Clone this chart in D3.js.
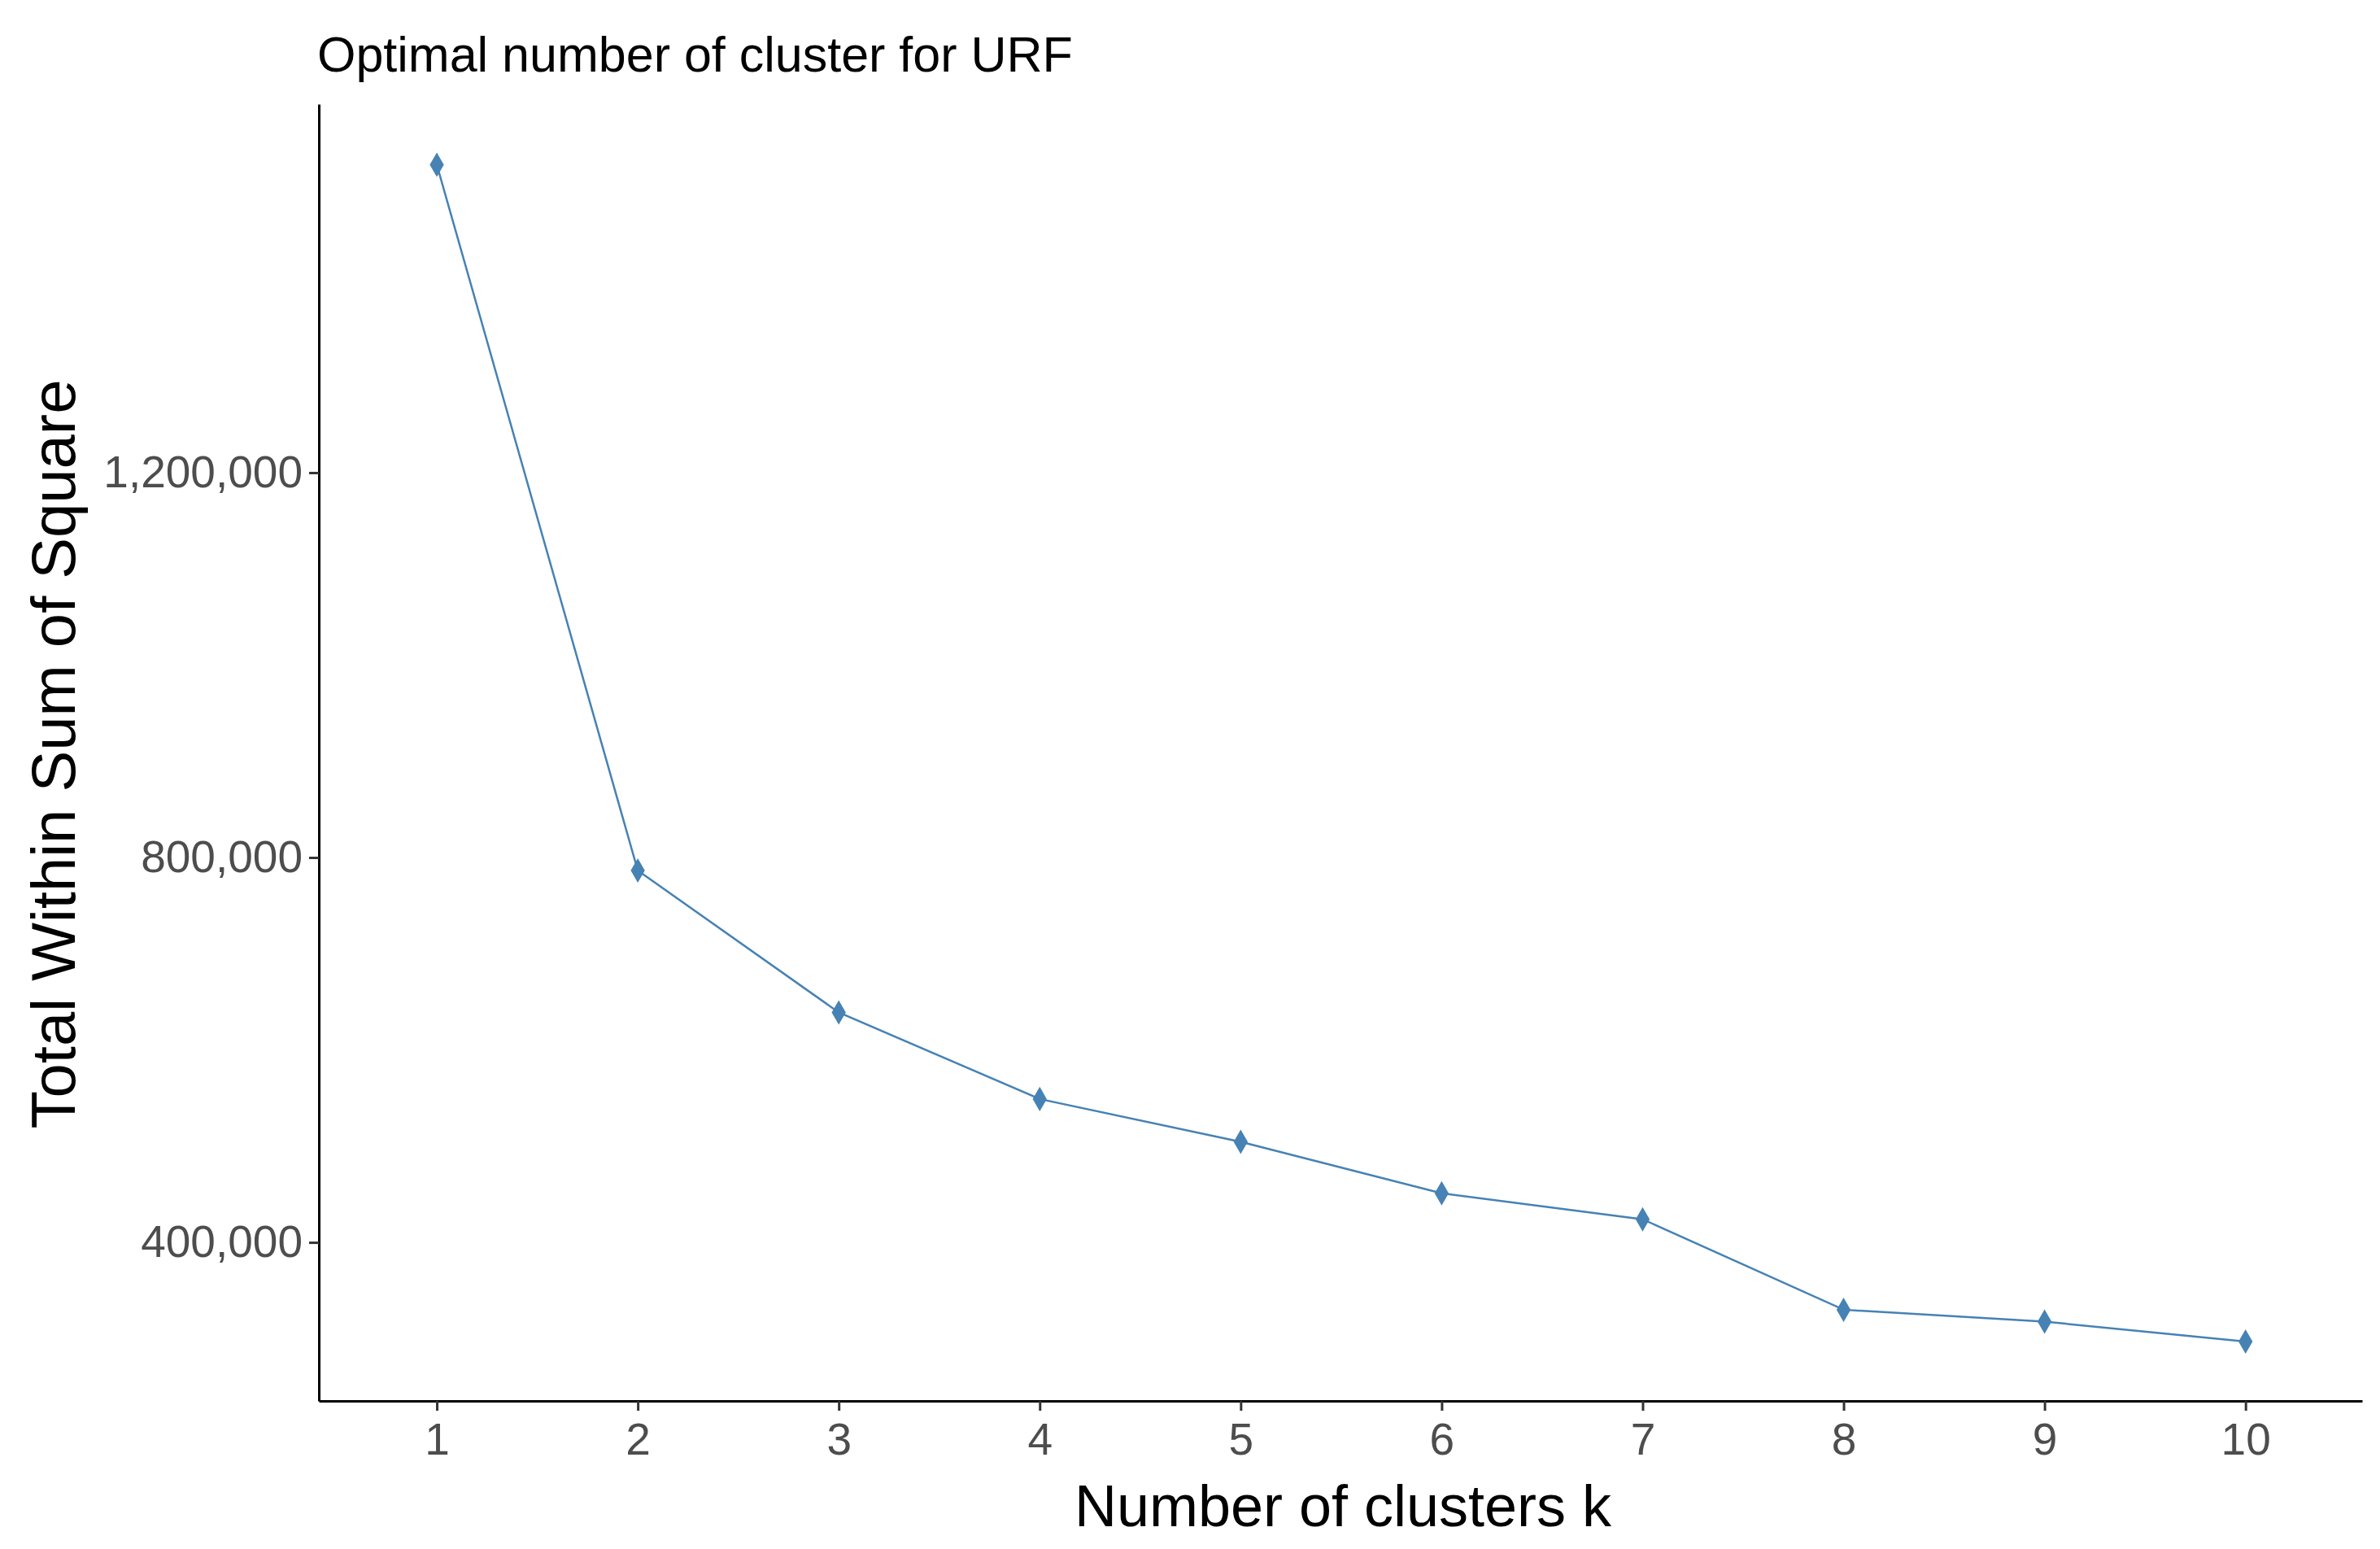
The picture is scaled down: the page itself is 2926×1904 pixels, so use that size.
<!DOCTYPE html>
<html><head><meta charset="utf-8">
<script src="https://cdn.jsdelivr.net/npm/d3@7"></script>
<style>body{margin:0;background:#fff}svg{display:block}</style>
</head><body>
<script>
const clusters = [1,2,3,4,5,6,7,8,9,10];
const wss = [1520000,786500,639000,549000,504500,451000,424000,330000,317600,297000];
const yTicks = [400000,800000,1200000];
const title = "Optimal number of cluster for URF";
const xTitle = "Number of clusters k";
const yTitle = "Total Within Sum of Square";

const W=2926,H=1904;
const svg=d3.select("body").append("svg").attr("width",W).attr("height",H);
const L=392,R=2904,T=128,B=1722;
const x=d3.scaleLinear().domain([0.413,10.58]).range([L,R]);
const y=d3.scaleLinear().domain([235200,1583000]).range([B,T]);
const font="Liberation Sans, Arial, sans-serif";

svg.append("text").attr("x",390).attr("y",88).attr("font-family",font).attr("font-size",61).attr("fill","#000").text(title);

const xa=svg.append("g").attr("transform",`translate(0,${B})`)
 .call(d3.axisBottom(x).tickValues(clusters).tickFormat(d3.format("d")).tickSize(12).tickSizeOuter(0).tickPadding(10));
const ya=svg.append("g").attr("transform",`translate(${L},0)`)
 .call(d3.axisLeft(y).tickValues(yTicks).tickFormat(d3.format(",")).tickSize(12).tickSizeOuter(0).tickPadding(8));
[xa,ya].forEach(a=>{
 a.select(".domain").attr("stroke","#000").attr("stroke-width",3);
 a.selectAll(".tick line").attr("stroke","#333").attr("stroke-width",3);
 a.selectAll(".tick text").attr("font-family",font).attr("font-size",55).attr("fill","#4d4d4d");
});
xa.selectAll(".tick text").attr("dy","0.8em");

svg.append("text").attr("x",1651).attr("y",1876).attr("text-anchor","middle")
 .attr("font-family",font).attr("font-size",72).attr("fill","#000").text(xTitle);
svg.append("text").attr("transform",`translate(92,${927}) rotate(-90)`).attr("text-anchor","middle")
 .attr("font-family",font).attr("font-size",76).attr("fill","#000").text(yTitle);

const pts=clusters.map((c,i)=>[c,wss[i]]);
svg.append("path").datum(pts).attr("fill","none").attr("stroke","#4682b4").attr("stroke-width",2.5)
 .attr("d",d3.line().x(d=>x(d[0])).y(d=>y(d[1])));
svg.selectAll("path.pt").data(pts).join("path").attr("class","pt")
 .attr("transform",d=>`translate(${x(d[0])},${y(d[1])})`)
 .attr("d",d3.symbol(d3.symbolDiamond,260)).attr("fill","#4682b4");
</script>
</body></html>
